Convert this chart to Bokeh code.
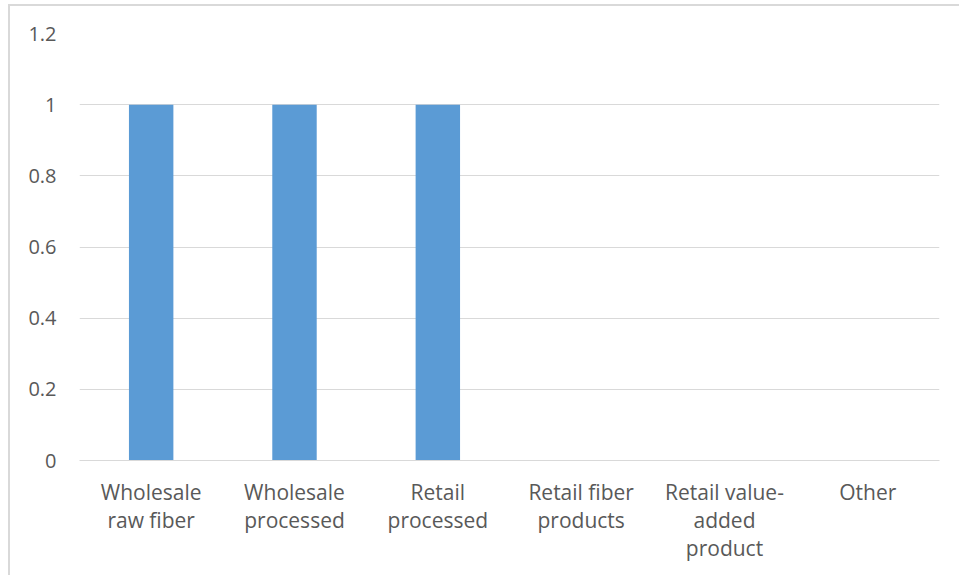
from bokeh.plotting import figure
from bokeh.models import FixedTicker, Range1d, ColumnDataSource
from bokeh.embed import file_html
from bokeh.resources import INLINE

categories = ["Wholesale\nraw fiber", "Wholesale\nprocessed", "Retail\nprocessed",
              "Retail fiber\nproducts", "Retail value-\nadded\nproduct", "Other"]
values = [1, 1, 1, 0, 0, 0]
y_ticks = [0, 0.2, 0.4, 0.6, 0.8, 1.0, 1.2]
y_tick_labels = ["0", "0.2", "0.4", "0.6", "0.8", "1", "1.2"]

FONT = "Open Sans"
GRAY = "#595959"
GRID = "#d9d9d9"

# outer chart border drawn via CSS (top + left only visible in reference)
BL, BT = 10, 6  # left offset + border, top offset + border

p = figure(x_range=categories, y_range=Range1d(0, 1.2), width=961 - BL, height=577 - BT,
           output_backend="svg", toolbar_location=None,
           min_border_left=79 - BL, min_border_right=22, min_border_top=33 - BT,
           min_border_bottom=117)
p.styles = {"margin-left": "8px", "margin-top": "4px",
            "border-left": "2px solid " + GRID, "border-top": "2px solid " + GRID,
            "border-right": "none", "border-bottom": "none"}
p.outline_line_color = None
p.background_fill_color = "white"
p.border_fill_color = "white"

src = ColumnDataSource(dict(cat=categories, val=values))
p.vbar(x="cat", top="val", width=0.31, source=src, fill_color="#5b9bd5", line_color=None)

p.xgrid.grid_line_color = None
p.ygrid.grid_line_color = GRID
p.ygrid.grid_line_width = 1

p.yaxis.ticker = FixedTicker(ticks=y_ticks)
p.yaxis.major_label_overrides = {t: l for t, l in zip(y_ticks, y_tick_labels)}
p.yaxis.axis_line_color = None
p.yaxis.major_tick_line_color = None
p.yaxis.minor_tick_line_color = None
p.yaxis.major_label_standoff = 17
p.yaxis.major_label_text_font = FONT
p.yaxis.major_label_text_font_size = "20px"
p.yaxis.major_label_text_color = GRAY

p.xaxis.axis_line_color = GRID
p.xaxis.axis_line_width = 1
p.xaxis.major_tick_line_color = None
p.xaxis.minor_tick_line_color = None
p.xaxis.major_label_standoff = 11
p.xaxis.major_label_text_font = FONT
p.xaxis.major_label_text_font_size = "21px"
p.xaxis.major_label_text_color = GRAY
p.xaxis.major_label_text_line_height = 1.0
p.x_range.range_padding = 0

open("out.html", "w").write(file_html(p, INLINE))
